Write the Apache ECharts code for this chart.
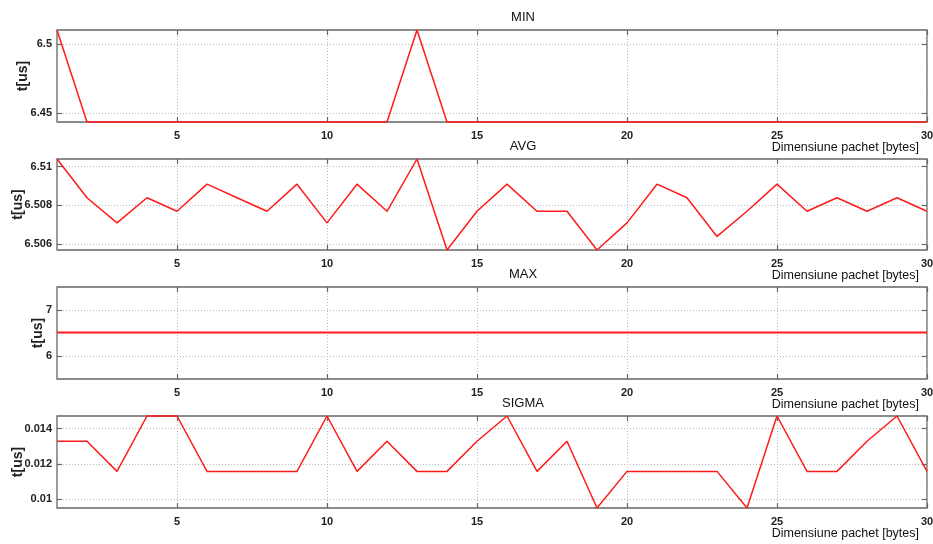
<!DOCTYPE html>
<html>
<head>
<meta charset="utf-8">
<script src="https://cdn.jsdelivr.net/npm/echarts@6/dist/echarts.min.js"></script>
<style>
html,body{margin:0;padding:0;background:#fff;}
#chart{width:933px;height:544px;}
</style>
</head>
<body>
<div id="chart"></div>
<script>
// ---- data ----
const packetSize = [1,2,3,4,5,6,7,8,9,10,11,12,13,14,15,16,17,18,19,20,21,22,23,24,25,26,27,28,29,30];
const minValues = [6.5105,6.4433,6.4433,6.4433,6.4433,6.4433,6.4433,6.4433,6.4433,6.4433,6.4433,6.4433,6.5105,6.4433,6.4433,
                   6.4433,6.4433,6.4433,6.4433,6.4433,6.4433,6.4433,6.4433,6.4433,6.4433,6.4433,6.4433,6.4433,6.4433,6.4433];
const avgValues = [6.5104,6.5084,6.5071,6.5084,6.5077,6.5091,6.5084,6.5077,6.5091,6.5071,6.5091,6.5077,6.5104,6.5057,6.5077,
                   6.5091,6.5077,6.5077,6.5057,6.5071,6.5091,6.5084,6.5064,6.5077,6.5091,6.5077,6.5084,6.5077,6.5084,6.5077];
const maxValues = [6.51,6.51,6.51,6.51,6.51,6.51,6.51,6.51,6.51,6.51,6.51,6.51,6.51,6.51,6.51,
                   6.51,6.51,6.51,6.51,6.51,6.51,6.51,6.51,6.51,6.51,6.51,6.51,6.51,6.51,6.51];
const sigmaValues = [0.01328,0.01328,0.01158,0.01471,0.01471,0.01158,0.01158,0.01158,0.01158,0.01471,0.01158,0.01328,0.01158,0.01158,0.01328,
                     0.01471,0.01158,0.01328,0.00951,0.01158,0.01158,0.01158,0.01158,0.00951,0.01471,0.01158,0.01158,0.01328,0.01471,0.01158];
const panelTitles = ['MIN','AVG','MAX','SIGMA'];
const xTicks = [5,10,15,20,25,30];
const minTicks = [6.45,6.5];
const avgTicks = [6.506,6.508,6.51];
const maxTicks = [6,7];
const sigmaTicks = [0.01,0.012,0.014];
const yRanges = [[6.4433,6.5105],[6.5057,6.5104],[5.5,7.5],[0.00951,0.01471]];
const xLabel = 'Dimensiune pachet [bytes]';
const yLabel = 't[us]';

// ---- layout ----
const panels = [
  {values:minValues, ticks:minTicks, top:30, height:92, lw:1.5, nameGap:27},
  {values:avgValues, ticks:avgTicks, top:159, height:91, lw:1.5, nameGap:32},
  {values:maxValues, ticks:maxTicks, top:287, height:92, lw:2, nameGap:12},
  {values:sigmaValues, ticks:sigmaTicks, top:416, height:92, lw:1.5, nameGap:32}
];
const sans = '"Liberation Sans", Arial, sans-serif';
const gridColor = '#b8b8b8';
const boxColor = '#666666';

const grid = [], xAxis = [], yAxis = [], series = [], title = [];
panels.forEach((p, i) => {
  grid.push({left:57, right:6, top:p.top, height:p.height, show:true, borderColor:boxColor, borderWidth:1.3,
    backgroundColor:'#fff', containLabel:false, outerBoundsMode:'none'});
  title.push({text:panelTitles[i], left:518, top:p.top - 24, textAlign:'center',
    textStyle:{fontFamily:sans, fontSize:13, fontWeight:'normal', color:'#111'}});
  title.push({text:xLabel, right:9, top:p.top + p.height + 14,
    textStyle:{fontFamily:sans, fontSize:12.5, fontWeight:'normal', color:'#111'}});
  xAxis.push({
    type:'value', gridIndex:i, min:1, max:30,
    axisLine:{show:false},
    axisTick:{show:true, inside:true, length:5, customValues:xTicks, lineStyle:{color:boxColor, width:1.2}},
    axisLabel:{show:true, customValues:xTicks, margin:8, fontFamily:sans, fontWeight:'bold', fontSize:11, color:'#222'},
    splitLine:{show:true, lineStyle:{color:gridColor, type:[1,2], width:1}}
  });
  yAxis.push({
    type:'value', gridIndex:i, min:yRanges[i][0], max:yRanges[i][1],
    axisLine:{show:false},
    axisTick:{show:true, inside:true, length:5, customValues:p.ticks, lineStyle:{color:boxColor, width:1.2}},
    axisLabel:{show:true, customValues:p.ticks, margin:5, fontFamily:sans, fontWeight:'bold', fontSize:11, color:'#222'},
    splitLine:{show:true, lineStyle:{color:gridColor, type:[1,2], width:1}},
    name:yLabel, nameLocation:'middle', nameRotate:90, nameGap:p.nameGap, nameMoveOverlap:false,
    nameTextStyle:{fontFamily:sans, fontSize:14, fontWeight:'bold', color:'#222'}
  });
  series.push({
    type:'line', xAxisIndex:i, yAxisIndex:i, showSymbol:false, clip:false,
    lineStyle:{color:'#ff1a1a', width:p.lw}, itemStyle:{color:'#ff1a1a'},
    data: packetSize.map((x, k) => [x, p.values[k]])
  });
});
// opposite-side inward ticks (box style)
panels.forEach((p, i) => {
  xAxis.push({type:'value', gridIndex:i, position:'top', min:1, max:30,
    axisLine:{show:false}, axisLabel:{show:false}, splitLine:{show:false},
    axisTick:{show:true, inside:true, length:5, customValues:xTicks, lineStyle:{color:boxColor, width:1.2}}});
  yAxis.push({type:'value', gridIndex:i, position:'right', min:yRanges[i][0], max:yRanges[i][1],
    axisLine:{show:false}, axisLabel:{show:false}, splitLine:{show:false},
    axisTick:{show:true, inside:true, length:5, customValues:p.ticks, lineStyle:{color:boxColor, width:1.2}}});
});

const chart = echarts.init(document.getElementById('chart'), null, {renderer:'canvas'});
chart.setOption({animation:false, backgroundColor:'#fff', title, grid, xAxis, yAxis, series});
</script>
</body>
</html>
